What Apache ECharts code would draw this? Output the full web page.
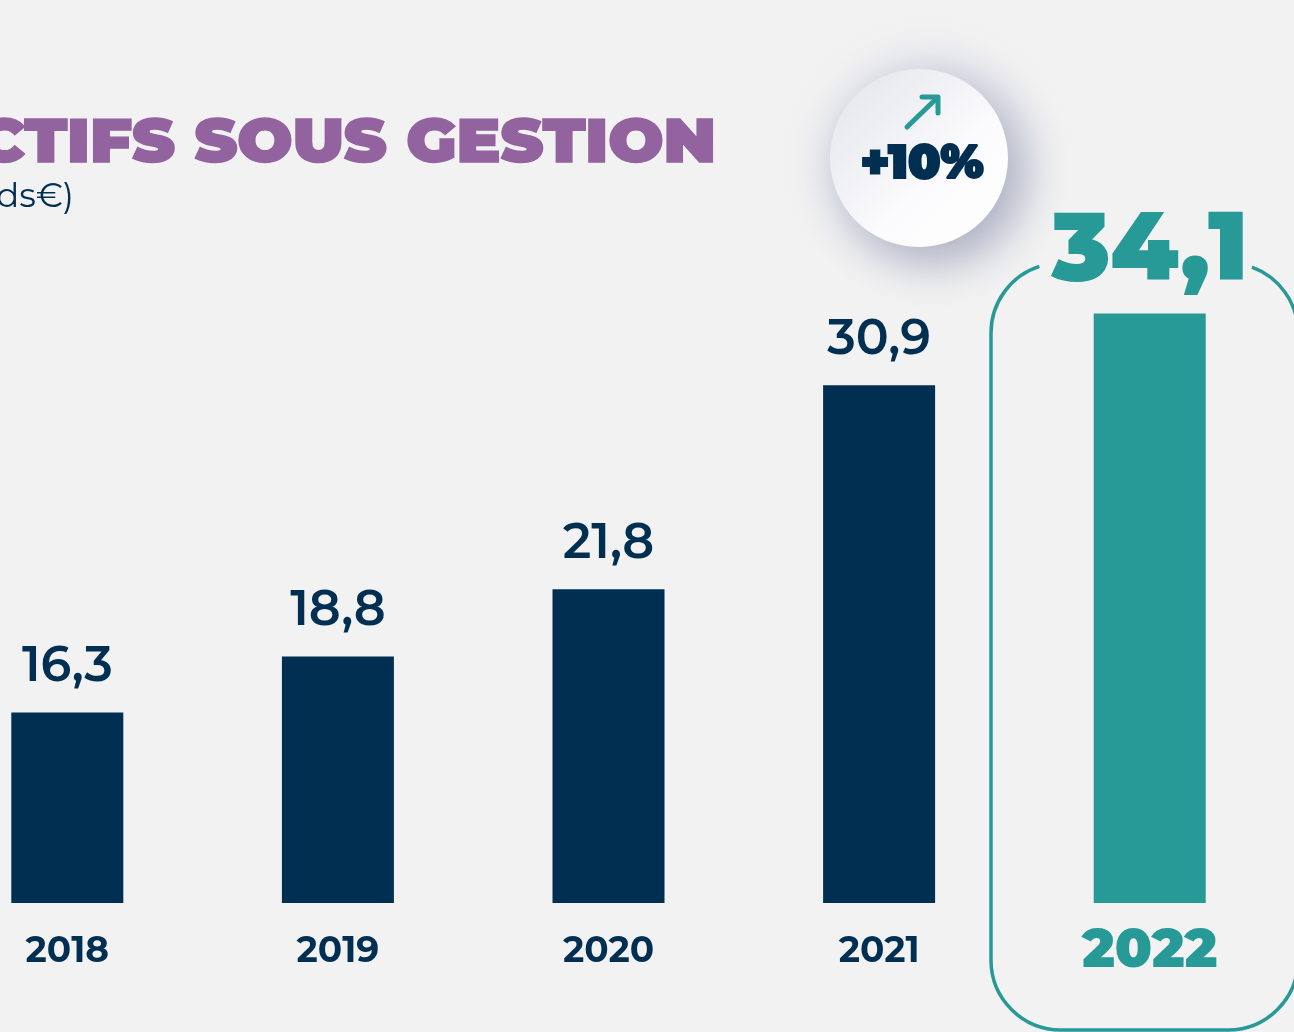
<!DOCTYPE html>
<html>
<head>
<meta charset="utf-8">
<script src="https://cdn.jsdelivr.net/npm/echarts@6/dist/echarts.min.js"></script>
<style>
html,body{margin:0;padding:0;background:#f2f2f2;}
#chart{width:1294px;height:1032px;}
</style>
</head>
<body>
<div id="chart"></div>
<script>
const categories = ['2018', '2019', '2020', '2021', '2022'];
const values = [16.3, 18.8, 21.8, 30.9, 34.1];
const valueLabels = ['16,3', '18,8', '21,8', '30,9', '34,1'];
const titleText = 'ACTIFS SOUS GESTION';
const subtitleText = '(en Mds€)';
const growthText = '+10%';

const NAVY = '#002f52';
const TEAL = '#279a98';
const PURPLE = '#93639f';
const FONT = 'Montserrat, Inter, "Noto Sans", sans-serif';
const hi = categories.length - 1;

const chart = echarts.init(document.getElementById('chart'));

const seriesData = values.map((v, i) => ({
  value: v,
  itemStyle: { color: i === hi ? TEAL : NAVY },
  label: i === hi
    ? { fontSize: 96, fontWeight: 900, color: TEAL, distance: 14 }
    : { fontSize: 49, fontWeight: 600, color: NAVY, distance: 21 }
}));

// outline box around highlighted bar
const bx0 = 991, bx1 = 1298, by0 = 263, by1 = 1030, br = 70;
const D = Math.PI / 180;
const outlineStyle = { stroke: TEAL, lineWidth: 3.5, fill: null };
const outline = [
  { type: 'arc', z: 1, shape: { cx: bx0 + br, cy: by0 + br, r: br, startAngle: 180 * D, endAngle: 252 * D, clockwise: true }, style: outlineStyle },
  { type: 'arc', z: 1, shape: { cx: bx1 - br, cy: by0 + br, r: br, startAngle: 290 * D, endAngle: 360 * D, clockwise: true }, style: outlineStyle },
  { type: 'arc', z: 1, shape: { cx: bx1 - br, cy: by1 - br, r: br, startAngle: 0, endAngle: 90 * D, clockwise: true }, style: outlineStyle },
  { type: 'arc', z: 1, shape: { cx: bx0 + br, cy: by1 - br, r: br, startAngle: 90 * D, endAngle: 180 * D, clockwise: true }, style: outlineStyle },
  { type: 'line', z: 1, shape: { x1: bx0, y1: by0 + br, x2: bx0, y2: by1 - br }, style: outlineStyle },
  { type: 'line', z: 1, shape: { x1: bx1, y1: by0 + br, x2: bx1, y2: by1 - br }, style: outlineStyle },
  { type: 'line', z: 1, shape: { x1: bx0 + br, y1: by1, x2: bx1 - br, y2: by1 }, style: outlineStyle }
];

const option = {
  backgroundColor: '#f2f2f2',
  animation: false,
  grid: { left: -68, right: 9, top: 271, bottom: 129, containLabel: false, outerBoundsMode: 'none' },
  xAxis: {
    type: 'category',
    data: categories,
    axisLine: { show: false },
    axisTick: { show: false },
    axisLabel: {
      margin: 30,
      fontFamily: FONT,
      formatter: (val, idx) => idx === hi ? '{h|' + val + '}' : '{n|' + val + '}',
      rich: {
        n: { fontSize: 36, fontWeight: 700, color: NAVY, fontFamily: FONT },
        h: { fontSize: 54, fontWeight: 900, color: TEAL, fontFamily: FONT, lineHeight: 36 }
      }
    }
  },
  yAxis: {
    type: 'value', min: 7.8, max: 36,
    show: false, splitLine: { show: false }
  },
  series: [{
    type: 'bar',
    barWidth: 112,
    data: seriesData,
    label: {
      show: true,
      position: 'top',
      fontFamily: FONT,
      formatter: p => valueLabels[p.dataIndex]
    },
    z: 3
  }],
  graphic: outline.concat([
    {
      type: 'circle', z: 0,
      shape: { cx: 928, cy: 162, r: 155 },
      style: {
        fill: {
          type: 'radial', x: 0.5, y: 0.5, r: 0.5,
          colorStops: [
            { offset: 0, color: 'rgba(220,221,230,0.9)' },
            { offset: 0.65, color: 'rgba(228,229,236,0.7)' },
            { offset: 1, color: 'rgba(242,242,242,0)' }
          ]
        }
      }
    },
    {
      type: 'circle', z: 5,
      shape: { cx: 919, cy: 158, r: 89 },
      style: {
        fill: {
          type: 'linear', x: 0, y: 0, x2: 1, y2: 1,
          colorStops: [
            { offset: 0, color: '#e2e3e9' },
            { offset: 0.6, color: '#fbfbfd' },
            { offset: 1, color: '#ffffff' }
          ]
        },
        shadowColor: 'rgba(60,70,110,0.35)',
        shadowBlur: 45, shadowOffsetX: 14, shadowOffsetY: 14
      }
    },
    {
      type: 'polyline', z: 6,
      shape: { points: [[907, 127], [937, 98]] },
      style: { stroke: TEAL, lineWidth: 5, lineCap: 'round', fill: null }
    },
    {
      type: 'polyline', z: 6,
      shape: { points: [[922, 97], [938, 97], [938, 113]] },
      style: { stroke: TEAL, lineWidth: 5, lineCap: 'round', lineJoin: 'round', fill: null }
    },
    {
      type: 'text', z: 6, x: 922, y: 141,
      style: {
        text: growthText, fontFamily: FONT, fontSize: 47, fontWeight: 900,
        fill: NAVY, stroke: NAVY, lineWidth: 2, align: 'center', verticalAlign: 'top'
      }
    },
    {
      type: 'text', z: 6, x: 716, y: 114, scaleX: 1.07, originX: 0,
      style: {
        text: titleText, fontFamily: FONT, fontSize: 61, fontWeight: 900,
        fill: PURPLE, stroke: PURPLE, lineWidth: 1.5, lineJoin: 'round',
        align: 'right', verticalAlign: 'top'
      }
    },
    {
      type: 'text', z: 6, x: 74, y: 180,
      style: {
        text: subtitleText, fontFamily: FONT, fontSize: 34, fontWeight: 400,
        fill: NAVY, align: 'right', verticalAlign: 'top'
      }
    }
  ])
};
chart.setOption(option);
</script>
</body>
</html>
